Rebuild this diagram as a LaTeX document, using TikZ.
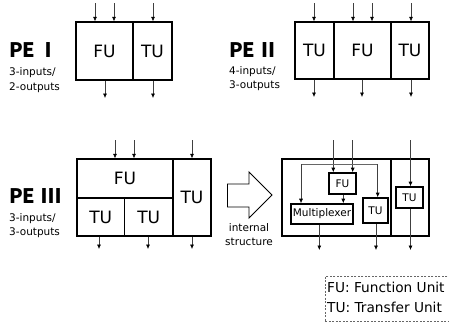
\documentclass[tikz,border=0pt]{standalone}
\usepackage{fontspec}
\setmainfont{DejaVu Sans}
\newfontfamily\jpfont{Noto Sans CJK JP}
\usetikzlibrary{arrows.meta}
\begin{document}
\begin{tikzpicture}[x=1pt,y=-1pt,
  unit/.style={draw, line width=1.3pt, rectangle, inner sep=0pt, font=\fontsize{17}{17}\selectfont},
  sub/.style={draw, line width=1.6pt, rectangle, inner sep=0pt, font=\fontsize{10.5}{10.5}\selectfont},
  arr/.style={draw=black!75, line width=0.6pt, -{Latex[length=4.5pt,width=4pt,black]}},
  wire/.style={draw=black!60, line width=0.6pt},
  pelabel/.style={anchor=west, inner sep=0pt, font=\jpfont\bfseries\fontsize{20}{20}\selectfont},
  io/.style={anchor=west, inner sep=0pt, font=\fontsize{10.5}{10.5}\selectfont},
  legendbox/.style={draw=black!60, dashed, dash pattern=on 2pt off 1.5pt, line width=0.6pt, inner sep=0pt},
  legtext/.style={anchor=west, inner sep=0pt, font=\fontsize{13.7}{13.7}\selectfont}
]
\useasboundingbox[fill=white] (0,0) rectangle (449,322);

% ---------- PE I ----------
\node[pelabel] (la) at (9,50) {PE\hspace{3pt}Ⅰ};
\node[io] (la1) at (9,73) {3-inputs/};
\node[io] (la2) at (9,88) {2-outputs};
\node[unit, minimum width=57, minimum height=58] (aF) at (104.5,51) {FU};
\node[unit, minimum width=39, minimum height=58] (aT) at (152.5,51) {TU};
\coordinate (ai1) at (95,3);
\coordinate (ai2) at (114,3);
\coordinate (ai3) at (153,3);
\draw[arr] (ai1) -- (ai1 |- aF.north);
\draw[arr] (ai2) -- (ai2 |- aF.north);
\draw[arr] (ai3) -- (ai3 |- aT.north);
\coordinate (ao1) at (105,98);
\coordinate (ao2) at (153,98);
\draw[arr] (ao1 |- aF.south) -- (ao1);
\draw[arr] (ao2 |- aT.south) -- (ao2);

% ---------- PE II ----------
\node[pelabel] (lb) at (229,50) {PE\hspace{3pt}Ⅱ};
\node[io] (lb1) at (229,72) {4-inputs/};
\node[io] (lb2) at (229,86) {3-outputs};
\node[unit, minimum width=39, minimum height=57] (bT1) at (314.5,50.5) {TU};
\node[unit, minimum width=57, minimum height=57] (bF) at (362.5,50.5) {FU};
\node[unit, minimum width=38, minimum height=57] (bT2) at (410,50.5) {TU};
\coordinate (bi1) at (314,3);
\coordinate (bi2) at (353,3);
\coordinate (bi3) at (372,3);
\coordinate (bi4) at (411,3);
\draw[arr] (bi1) -- (bi1 |- bT1.north);
\draw[arr] (bi2) -- (bi2 |- bF.north);
\draw[arr] (bi3) -- (bi3 |- bF.north);
\draw[arr] (bi4) -- (bi4 |- bT2.north);
\coordinate (bo1) at (314,97);
\coordinate (bo2) at (362,97);
\coordinate (bo3) at (411,97);
\draw[arr] (bo1 |- bT1.south) -- (bo1);
\draw[arr] (bo2 |- bF.south) -- (bo2);
\draw[arr] (bo3 |- bT2.south) -- (bo3);

% ---------- PE III ----------
\node[pelabel] (lc) at (9,196) {PE\hspace{6pt}Ⅲ};
\node[io] (lc1) at (9,219) {3-inputs/};
\node[io] (lc2) at (9,233) {3-outputs};
\node[unit, minimum width=96, minimum height=39] (cF) at (125,178.5) {FU};
\node[unit, minimum width=47.5, minimum height=38] (cT1) at (100.75,217) {TU};
\node[unit, minimum width=48.5, minimum height=38] (cT2) at (148.75,217) {TU};
\node[unit, minimum width=38, minimum height=77] (cT3) at (192,197.5) {TU};
\coordinate (ci1) at (115,140);
\coordinate (ci2) at (134,140);
\coordinate (ci3) at (192,140);
\draw[arr] (ci1) -- (ci1 |- cF.north);
\draw[arr] (ci2) -- (ci2 |- cF.north);
\draw[arr] (ci3) -- (ci3 |- cT3.north);
\coordinate (co1) at (99,249);
\coordinate (co2) at (148,249);
\coordinate (co3) at (192,249);
\draw[arr] (co1 |- cT1.south) -- (co1);
\draw[arr] (co2 |- cT2.south) -- (co2);
\draw[arr] (co3 |- cT3.south) -- (co3);

% ---------- big arrow ----------
\draw[line width=0.9pt, fill=white] (227.5,184) -- (249,184) -- (249,172) -- (272,195)
  -- (249,218) -- (249,207) -- (227.5,207) -- cycle;
\node[io, anchor=center] (ia) at (249,228) {internal};
\node[io, anchor=center] (ib) at (249,242) {structure};

% ---------- internal structure ----------
\node[unit, minimum width=109, minimum height=77] (dL) at (336.5,197.5) {};
\node[unit, minimum width=38, minimum height=77] (dR) at (410,197.5) {};
\node[sub, minimum width=27, minimum height=21] (dF) at (342.5,183.5) {FU};
\node[sub, minimum width=62, minimum height=20] (dM) at (322,214) {Multiplexer};
\node[sub, minimum width=25, minimum height=25] (dT) at (375.5,210.5) {TU};
\node[sub, minimum width=27, minimum height=21] (dT2) at (409.5,197.5) {TU};
\coordinate (di1) at (333.3,140);
\coordinate (di2) at (352.7,140);
\coordinate (di3) at (410.5,140);
\coordinate (dbl) at (301,164);
\coordinate (dbr) at (377.7,164);
\draw[arr] (di1) -- (di1 |- dF.north);
\draw[arr] (di2) -- (di2 |- dF.north);
\draw[wire] (dbl) -- (dbr);
\draw[arr] (dbl) -- (dbl |- dM.north);
\draw[arr] (dbr) -- (dbr |- dT.north);
\draw[arr] (dF.south -| 343.3,0) -- (dM.north -| 343.3,0);
\draw[arr] (di3) -- (di3 |- dT2.north);
\coordinate (do1) at (319.3,250);
\coordinate (do2) at (376,250);
\coordinate (do3) at (410.5,250);
\draw[arr] (do1 |- dM.south) -- (do1);
\draw[arr] (do2 |- dT.south) -- (do2);
\draw[arr] (do3 |- dT2.south) -- (do3);

% ---------- legend ----------
\node[legendbox, anchor=north west, minimum width=126, minimum height=45] (leg) at (325,276) {};
\node[legtext] (lg1) at (327,287.5) {FU: Function Unit};
\node[legtext] (lg2) at (327,307) {TU: Transfer Unit};
\end{tikzpicture}
\end{document}
